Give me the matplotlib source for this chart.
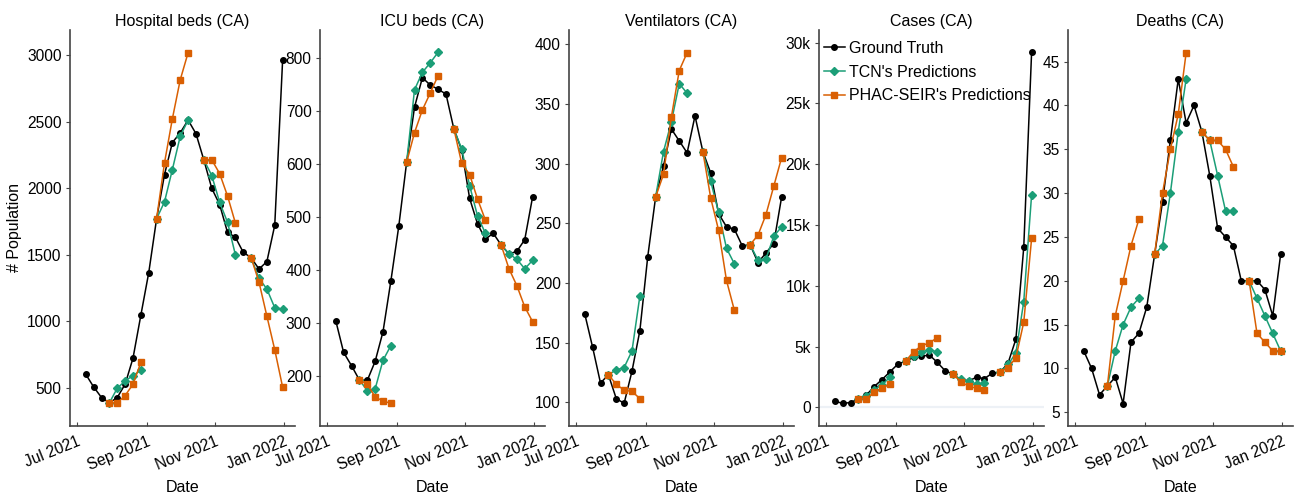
import numpy as np
import pandas as pd
import matplotlib
matplotlib.use('Agg')
import matplotlib.pyplot as plt
import matplotlib.dates as mdates
from matplotlib.ticker import MultipleLocator, FuncFormatter

nan = np.nan

# weekly reporting dates
dates = pd.date_range('2021-07-09', periods=26, freq='7D')

# hospital beds
hospTruth = [600, 505, 425, 385, 425, 525, 721, 1045, 1364, 1770, 2101, 2342, 2415,
             2511, 2408, 2210, 1998, 1876, 1667, 1630, 1517, 1476, 1391, 1447, 1720, 2962]
hospTcn = [nan, nan, nan, 385, 495, 550, 590, 630, nan, 1770, 1896, 2139, 2390,
           2511, nan, 2212, 2094, 1893, 1743, 1499, nan, 1476, 1321, 1241, 1100, 1090]
hospSeir = [nan, nan, nan, 385, 385, 440, 525, 690, nan, 1770, 2189, 2521, 2814,
            3018, nan, 2212, 2212, 2109, 1941, 1737, nan, 1476, 1293, 1037, 784, 503]

# icu beds
icuTruth = [304, 244, 219, 192, 191, 227, 283, 379, 482, 603, 707, 763, 749,
            741, 732, 666, 626, 535, 487, 458, 469, 447, 430, 435, 457, 538]
icuTcn = [nan, nan, nan, 192, 172, 175, 229, 257, nan, 603, 740, 773, 791,
          811, nan, 666, 628, 559, 502, 469, nan, 447, 430, 420, 402, 418]
icuSeir = [nan, nan, nan, 192, 184, 160, 152, 148, nan, 603, 659, 702, 734,
           767, nan, 666, 601, 580, 534, 494, nan, 447, 402, 370, 330, 302]

# ventilators
ventTruth = [174, 146, 116, 123, 103, 99, 126, 160, 222, 272, 298, 329, 319,
             309, 340, 310, 292, 258, 247, 245, 231, 232, 217, 225, 233, 272]
ventTcn = [nan, nan, nan, 123, 127, 129, 143, 189, nan, 272, 310, 335, 367,
           359, nan, 310, 285, 259, 229, 216, nan, 232, 219, 220, 239, 247]
ventSeir = [nan, nan, nan, 123, 115, 110, 109, 103, nan, 272, 291, 339, 378,
            393, nan, 310, 271, 244, 202, 177, nan, 232, 240, 257, 281, 305]

# cases
casesTruth = [490, 330, 385, 680, 990, 1700, 2280, 2910, 3540, 3800, 4100, 4180, 4310,
              3710, 3020, 2720, 2230, 2170, 2470, 2360, 2800, 2890, 3620, 5600, 13150, 29250]
casesTcn = [nan, nan, nan, 680, 950, 1430, 1850, 2470, nan, 3800, 4260, 4560, 4730,
            4560, nan, 2720, 2310, 2140, 1920, 1980, nan, 2890, 3520, 4450, 8700, 17500]
casesSeir = [nan, nan, nan, 680, 710, 1240, 1590, 1920, nan, 3800, 4560, 5050, 5300,
             5710, nan, 2720, 2120, 1730, 1570, 1400, nan, 2890, 3270, 4070, 7000, 13900]

# deaths
deathsTruth = [12, 10, 7, 8, 9, 6, 13, 14, 17, 23, 29, 36, 43,
               38, 40, 37, 32, 26, 25, 24, 20, 20, 20, 19, 16, 23]
deathsTcn = [nan, nan, nan, 8, 12, 15, 17, 18, nan, 23, 24, 30, 37,
             43, nan, 37, 36, 32, 28, 28, nan, 20, 18, 16, 14, 12]
deathsSeir = [nan, nan, nan, 8, 16, 20, 24, 27, nan, 23, 30, 35, 39,
              46, nan, 37, 36, 36, 35, 33, nan, 20, 14, 13, 12, 12]

titles = ['Hospital beds (CA)', 'ICU beds (CA)', 'Ventilators (CA)', 'Cases (CA)', 'Deaths (CA)']
seriesNames = ['Ground Truth', "TCN's Predictions", "PHAC-SEIR's Predictions"]

plt.rcParams['font.family'] = ['Liberation Sans', 'DejaVu Sans']

truthColor = 'black'
tcnColor = '#1b9e77'
seirColor = '#d95f02'
spineColor = '#444444'


def kFormat(v, pos):
    if v == 0:
        return '0'
    return '%dk' % round(v / 1000)


def drawPanel(ax, title, truth, tcn, seir, yLim, yStep, kTicks=False):
    if kTicks:
        # light zero line like the original
        ax.axhline(0, color='#edf1f6', lw=1.6, zorder=0)
    ax.plot(dates, truth, color=truthColor, lw=1.1, marker='o', ms=4.0, label=seriesNames[0])
    ax.plot(dates, tcn, color=tcnColor, lw=1.1, marker='D', ms=3.6, label=seriesNames[1])
    ax.plot(dates, seir, color=seirColor, lw=1.1, marker='s', ms=4.4, label=seriesNames[2])

    ax.set_title(title, fontsize=11.5, pad=3)
    ax.set_xlabel('Date', fontsize=11.5, labelpad=5)
    ax.set_ylim(*yLim)
    ax.set_xlim(pd.Timestamp('2021-06-25'), pd.Timestamp('2022-01-11'))
    ax.yaxis.set_major_locator(MultipleLocator(yStep))
    if kTicks:
        ax.yaxis.set_major_formatter(FuncFormatter(kFormat))

    ax.xaxis.set_major_locator(mdates.MonthLocator(bymonth=[1, 7, 9, 11]))
    ax.xaxis.set_major_formatter(mdates.DateFormatter('%b %Y'))
    for lbl in ax.get_xticklabels():
        lbl.set_rotation(22)
        lbl.set_ha('right')
        lbl.set_rotation_mode('anchor')

    for side in ['top', 'right']:
        ax.spines[side].set_visible(False)
    for side in ['left', 'bottom']:
        ax.spines[side].set_color(spineColor)
        ax.spines[side].set_linewidth(1.2)
    ax.tick_params(axis='y', direction='out', length=3, color=spineColor, labelsize=11.2, pad=3)
    ax.tick_params(axis='x', direction='in', length=3, color=spineColor, labelsize=11.2, pad=6)


fig = plt.figure(figsize=(13.01, 4.95), dpi=100)
lefts = [70, 320, 569, 819, 1068]
axes = [fig.add_axes([l / 1301, 69 / 495, 225 / 1301, 396 / 495]) for l in lefts]

drawPanel(axes[0], titles[0], hospTruth, hospTcn, hospSeir, (211, 3188), 500)
drawPanel(axes[1], titles[1], icuTruth, icuTcn, icuSeir, (105, 853), 100)
drawPanel(axes[2], titles[2], ventTruth, ventTcn, ventSeir, (80, 412), 50)
drawPanel(axes[3], titles[3], casesTruth, casesTcn, casesSeir, (-1540, 31040), 5000, kTicks=True)
drawPanel(axes[4], titles[4], deathsTruth, deathsTcn, deathsSeir, (3.44, 48.6), 5)

axes[0].set_ylabel('# Population', fontsize=11.5, labelpad=4)

axes[3].legend(loc='upper left', bbox_to_anchor=(0.0, 0.985), frameon=False, fontsize=11.5,
               handlelength=1.3, handletextpad=0.3, labelspacing=0.55, borderaxespad=0.1,
               borderpad=0.2)

fig.savefig('out.png', dpi=100)
